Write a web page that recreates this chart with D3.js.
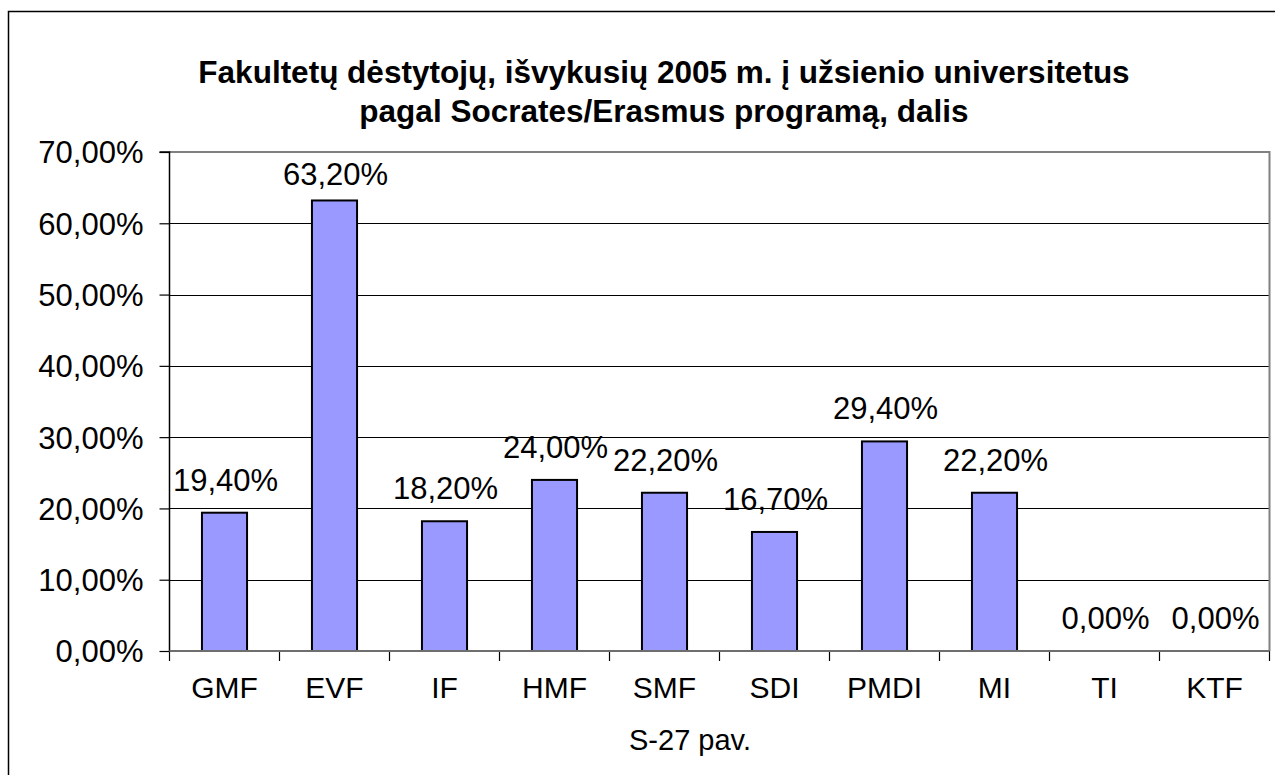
<!DOCTYPE html>
<html>
<head>
<meta charset="utf-8">
<script src="https://cdn.jsdelivr.net/npm/d3@7"></script>
<style>
  html, body { margin: 0; padding: 0; background: #fff; }
  svg { display: block; font-family: "Liberation Sans", Arial, sans-serif; }
</style>
</head>
<body>
<svg id="chart" width="1275" height="775"></svg>
<script>
// Faculty codes and the share of lecturers who went abroad (percent)
const categories = ["GMF", "EVF", "IF", "HMF", "SMF", "SDI", "PMDI", "MI", "TI", "KTF"];
const shares = [19.4, 63.2, 18.2, 24.0, 22.2, 16.7, 29.4, 22.2, 0.0, 0.0];
const yTicks = [0, 10, 20, 30, 40, 50, 60, 70];
const titleLines = [
  "Fakultetų dėstytojų, išvykusių 2005 m. į užsienio universitetus",
  "pagal Socrates/Erasmus programą, dalis"
];
const xAxisTitle = "S-27 pav.";

const svg = d3.select("#chart");
const plot = { left: 169.5, right: 1269.5, top: 152, bottom: 651 };

const fmt = v => d3.format(".2f")(v).replace(".", ",") + "%";

const x = d3.scaleBand().domain(categories).range([plot.left, plot.right]).padding(0);
const y = d3.scaleLinear().domain([0, 70]).range([plot.bottom, plot.top]);
const barW = x.bandwidth() * 0.41;

// outer chart frame
svg.append("rect")
  .attr("x", 8.5).attr("y", 11.5).attr("width", 1300).attr("height", 800)
  .attr("fill", "none").attr("stroke", "#000").attr("stroke-width", 1.5);

// title
svg.append("g").selectAll("text").data(titleLines).join("text")
  .attr("x", 664).attr("y", (d, i) => 83 + i * 39)
  .attr("text-anchor", "middle")
  .attr("font-size", 31.5).attr("font-weight", "bold")
  .text(d => d);

// gridlines
svg.append("g").selectAll("line").data(yTicks.filter(t => t > 0 && t < 70)).join("line")
  .attr("x1", plot.left).attr("x2", plot.right)
  .attr("y1", d => Math.round(y(d)) + 0.5).attr("y2", d => Math.round(y(d)) + 0.5)
  .attr("stroke", "#000").attr("stroke-width", 1);

// plot area border (top and right)
svg.append("path")
  .attr("d", `M${plot.left},${plot.top} H${plot.right} V${plot.bottom}`)
  .attr("fill", "none").attr("stroke", "#808080").attr("stroke-width", 2);

// bars
svg.append("g").selectAll("rect").data(categories).join("rect")
  .attr("x", (d) => x(d) + x.bandwidth() / 2 - barW / 2)
  .attr("y", (d, i) => y(shares[i]))
  .attr("width", barW)
  .attr("height", (d, i) => y(0) - y(shares[i]))
  .attr("fill", "#9999FF")
  .attr("stroke", "#000").attr("stroke-width", 2);

// value labels
svg.append("g").selectAll("text").data(categories).join("text")
  .attr("x", d => x(d) + x.bandwidth() / 2 + 1)
  .attr("y", (d, i) => Math.max(y(shares[i]) - 22, plot.top + 33))
  .attr("text-anchor", "middle")
  .attr("font-size", 31)
  .text((d, i) => fmt(shares[i]));

// y axis
const yAxis = d3.axisLeft(y).tickValues(yTicks).tickSize(10).tickPadding(16)
  .tickFormat(d => fmt(d));
const gy = svg.append("g").attr("transform", `translate(${plot.left},0)`).call(yAxis);
gy.select(".domain").attr("stroke", "#000").attr("stroke-width", 1.5)
  .attr("d", `M-10,${plot.top}H0V${plot.bottom}`);
gy.selectAll(".tick line").attr("stroke", "#000").attr("stroke-width", 1.2);
gy.selectAll(".tick text").attr("font-size", 31).attr("fill", "#000")
  .attr("font-family", "'Liberation Sans', Arial, sans-serif").attr("dy", "0.35em");

// x axis
const xAxis = d3.axisBottom(x).tickSize(0).tickPadding(26);
const gx = svg.append("g").attr("transform", `translate(0,${plot.bottom})`).call(xAxis);
gx.select(".domain").remove();
gx.selectAll(".tick text").attr("font-size", 30).attr("fill", "#000")
  .attr("font-family", "'Liberation Sans', Arial, sans-serif").attr("dy", "0.71em");
// tick marks between categories
const boundaries = categories.map(c => x(c)).concat([plot.right]);
gx.append("g").selectAll("line").data(boundaries).join("line")
  .attr("x1", d => d).attr("x2", d => d).attr("y1", 0).attr("y2", 10)
  .attr("stroke", "#000").attr("stroke-width", 1.2);
gx.append("line").attr("x1", plot.left).attr("x2", plot.right)
  .attr("y1", 0).attr("y2", 0).attr("stroke", "#6e6e6e").attr("stroke-width", 2);

// x axis title
svg.append("text").attr("x", 690).attr("y", 750)
  .attr("text-anchor", "middle").attr("font-size", 29)
  .text(xAxisTitle);
</script>
</body>
</html>
